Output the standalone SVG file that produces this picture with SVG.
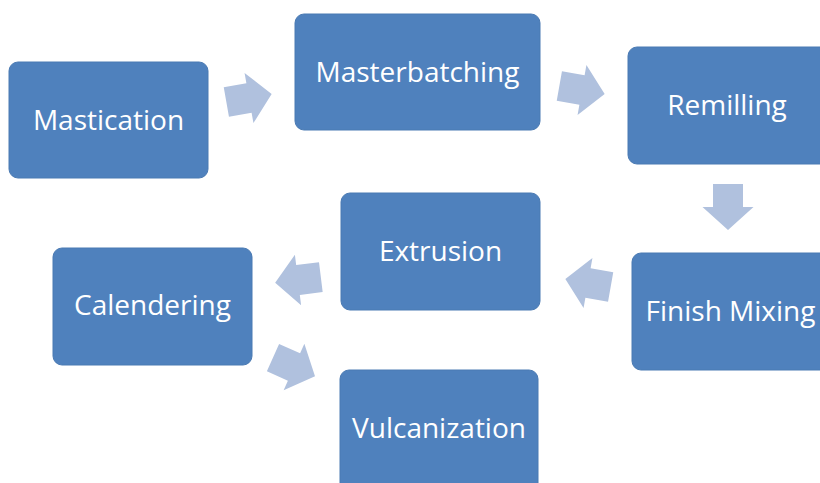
<svg xmlns="http://www.w3.org/2000/svg" width="820" height="483" viewBox="0 0 820 483">
<style>
.box{fill:#4F81BD;stroke:#4A7AB3;stroke-width:1}
.lbl{font-family:"Open Sans","Noto Sans",sans-serif;font-size:28px;fill:#FFFFFF;text-anchor:middle;dominant-baseline:central}
.arr{fill:#B0C1DE}
</style>
<defs>
<polygon id="arrow" points="-23,-15 0,-15 0,-25.5 23,0 0,25.5 0,15 -23,15"/>
</defs>
<rect width="820" height="483" fill="#FFFFFF"/>
<g id="connectors">
<use href="#arrow" class="arr" transform="translate(249,98) rotate(-10)"/>
<use href="#arrow" class="arr" transform="translate(582,90) rotate(10)"/>
<use href="#arrow" class="arr" transform="translate(728,207) rotate(90)"/>
<use href="#arrow" class="arr" transform="translate(588,283) rotate(190)"/>
<use href="#arrow" class="arr" transform="translate(298,280) rotate(173)"/>
<use href="#arrow" class="arr" transform="translate(294,367) rotate(24)"/>
</g>
<g id="mastication">
<rect class="box" x="9" y="62" width="199" height="116" rx="9"/>
<text class="lbl" x="108.5" y="119">Mastication</text>
</g>
<g id="masterbatching">
<rect class="box" x="295" y="14" width="245" height="116" rx="9"/>
<text class="lbl" x="417.5" y="71">Masterbatching</text>
</g>
<g id="remilling">
<rect class="box" x="628" y="47" width="205" height="117" rx="9"/>
<text class="lbl" x="727" y="104">Remilling</text>
</g>
<g id="finish-mixing">
<rect class="box" x="632" y="253" width="205" height="117" rx="9"/>
<text class="lbl" x="730.5" y="310">Finish Mixing</text>
</g>
<g id="extrusion">
<rect class="box" x="341" y="193" width="199" height="117" rx="9"/>
<text class="lbl" x="440.5" y="250">Extrusion</text>
</g>
<g id="calendering">
<rect class="box" x="53" y="248" width="199" height="117" rx="9"/>
<text class="lbl" x="152.5" y="304">Calendering</text>
</g>
<g id="vulcanization">
<rect class="box" x="340" y="370" width="198" height="125" rx="9"/>
<text class="lbl" x="439" y="427">Vulcanization</text>
</g>
</svg>
